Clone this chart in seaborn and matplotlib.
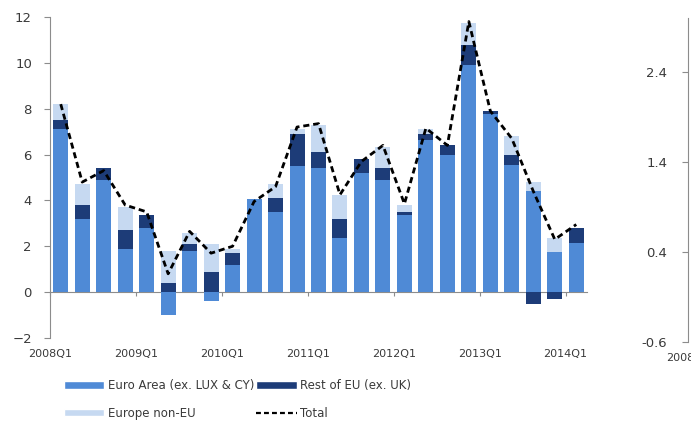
import numpy as np
import pandas as pd
import matplotlib
matplotlib.use("Agg")
import matplotlib.pyplot as plt
import seaborn as sns
from matplotlib.patches import Patch
from matplotlib.lines import Line2D

# ---------------------------------------------------------------------------
# Data, 2008Q1 .. 2014Q1
# ---------------------------------------------------------------------------
euro_area = [7.1, 3.2, 4.9, 1.9, 2.8, -1.0, 1.8, -0.4, 1.2, 4.05, 3.5, 5.5, 5.4,
             2.35, 5.2, 4.9, 3.35, 6.65, 6.0, 9.9, 7.75, 5.55, 4.4, 1.75, 2.15]
rest_of_eu = [0.4, 0.6, 0.5, 0.8, 0.55, 0.4, 0.3, 0.9, 0.5, 0.0, 0.6, 1.4, 0.7,
              0.85, 0.6, 0.5, 0.15, 0.25, 0.4, 0.9, 0.15, 0.45, -0.5, -0.3, 0.65]
europe_non_eu = [0.7, 0.9, 0.0, 1.0, 0.0, 1.4, 0.5, 1.2, 0.2, 0.0, 0.6, 0.2, 1.2,
                 1.05, 0.0, 0.95, 0.3, 0.2, 0.0, 0.95, 0.0, 0.8, 0.4, 0.6, 0.0]
total = [8.2, 4.8, 5.3, 3.8, 3.5, 0.8, 2.65, 1.7, 2.0, 3.95, 4.6, 7.2, 7.35,
         4.25, 5.7, 6.4, 3.85, 7.15, 6.4, 11.8, 7.9, 6.7, 4.4, 2.3, 2.95]

tick_labels = ["2008Q1", "2009Q1", "2010Q1", "2011Q1", "2012Q1", "2013Q1", "2014Q1"]
right_ticks = [-0.6, 0.4, 1.4, 2.4]

series_names = ["Euro Area (ex. LUX & CY)", "Rest of EU (ex. UK)", "Europe non-EU"]
colors = ["#4f8ad6", "#1d3c78", "#c6d9f1"]
line_color = "#000000"
axis_color = "#8c8c8c"
text_color = "#3a3a3a"

# ---------------------------------------------------------------------------
# Figure
# ---------------------------------------------------------------------------
sns.set_style("white")
plt.rcParams["font.family"] = ["DejaVu Sans"]

df = pd.DataFrame({
    "idx": np.arange(len(total)),
    "ea": euro_area,
    "reu": rest_of_eu,
    "noneu": europe_non_eu,
    "total": total,
})

W, H = 691, 424
fig = plt.figure(figsize=(W / 100, H / 100), dpi=100)
ax = fig.add_axes([50 / W, (H - 338) / H, 537 / W, 321 / H])

# stacked bars: positives stack upward, negatives downward (Excel style)
pos_base = np.zeros(len(df))
neg_base = np.zeros(len(df))
for col, c in zip(["ea", "reu", "noneu"], colors):
    vals = df[col].to_numpy()
    bottoms = np.where(vals >= 0, pos_base, neg_base)
    ax.bar(df["idx"], vals, bottom=bottoms, width=0.7, color=c, linewidth=0, zorder=2)
    pos_base = pos_base + np.clip(vals, 0, None)
    neg_base = neg_base + np.clip(vals, None, 0)

sns.lineplot(data=df, x="idx", y="total", ax=ax, color=line_color, lw=2.0,
             linestyle=(0, (2.2, 1.4)), zorder=3)

ax.set_xlim(-0.5, len(df) - 0.5)
ax.set_ylim(-2, 12)
ax.set_xlabel("")
ax.set_ylabel("")

label_pos = np.arange(0, len(df), 4) - 0.5
ax.set_xticks(label_pos)
ax.set_xticklabels(tick_labels, fontsize=8, color=text_color)
ax.tick_params(axis="x", length=0, pad=8)
ax.set_yticks(np.arange(-2, 13, 2))
ax.tick_params(axis="y", direction="out", length=4, width=0.8, color=axis_color,
               labelsize=9.5, labelcolor=text_color, pad=9, left=True)
for s in ["top", "right", "bottom"]:
    ax.spines[s].set_visible(False)
ax.spines["left"].set_color(axis_color)
ax.spines["left"].set_linewidth(0.8)

# horizontal axis line at zero with category-boundary ticks
zero_frac = (0 - (-2)) / (12 - (-2))
sec = ax.secondary_xaxis(zero_frac)
sec.set_xticks(label_pos)
sec.set_xticklabels([])
sec.tick_params(axis="x", direction="out", length=3, width=0.8, color=axis_color)
sec.spines["bottom"].set_color(axis_color)
sec.spines["bottom"].set_linewidth(0.8)

# clipped neighbouring chart on the right
ax2 = fig.add_axes([688 / W, (H - 342) / H, 0.3, 324 / H])
ax2.set_ylim(-0.6, 3.0)
ax2.set_xlim(0, 10)
ax2.set_yticks(right_ticks)
ax2.set_yticklabels([f"{v:.1f}" for v in right_ticks])
ax2.set_xticks([0])
ax2.set_xticklabels(["2008Q1"], fontsize=8, color=text_color)
ax2.tick_params(axis="x", length=0, pad=8)
ax2.tick_params(axis="y", direction="out", length=4, width=0.8, color=axis_color,
                labelsize=9.5, labelcolor=text_color, pad=11, left=True)
for s in ["top", "right", "bottom"]:
    ax2.spines[s].set_visible(False)
ax2.spines["left"].set_color(axis_color)
ax2.spines["left"].set_linewidth(0.8)
ax2.patch.set_alpha(0)

# legend
handles = [
    Patch(facecolor=colors[0], label=series_names[0]),
    Patch(facecolor=colors[2], label=series_names[2]),
    Patch(facecolor=colors[1], label=series_names[1]),
    Line2D([], [], color=line_color, lw=1.6, linestyle=(0, (2.2, 1.4)), label="Total"),
]
fig.legend(handles=handles, ncol=2, loc="upper left",
           bbox_to_anchor=(64 / W, (H - 379) / H), frameon=False,
           fontsize=8.5, handlelength=3.4, handleheight=0.6, handletextpad=0.3,
           columnspacing=0.2, labelspacing=1.25, borderpad=0, borderaxespad=0,
           labelcolor=text_color)

fig.savefig("out.png", dpi=100)
